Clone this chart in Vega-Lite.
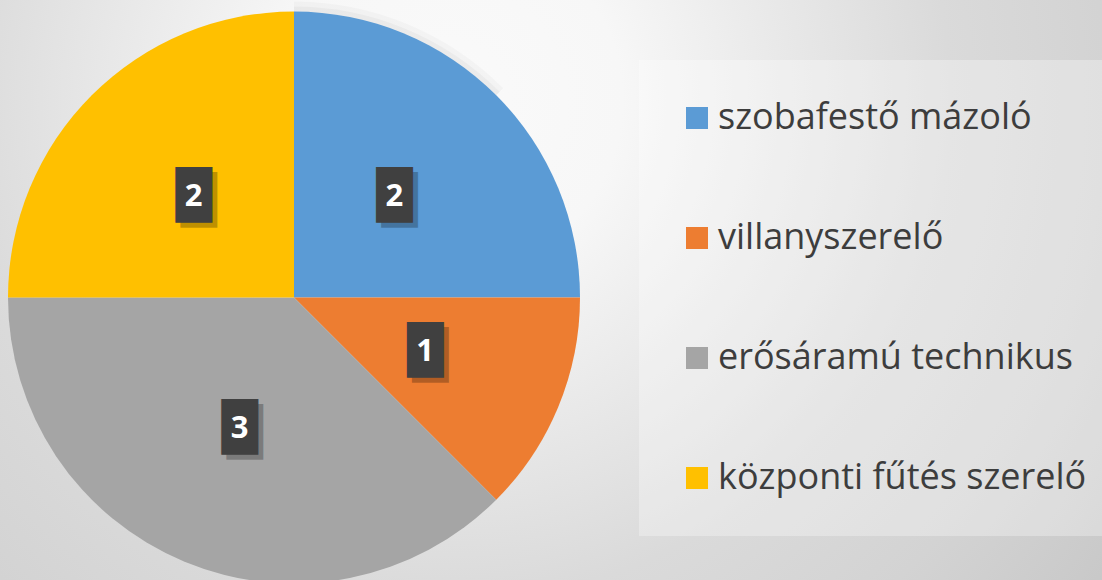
{
  "$schema": "https://vega.github.io/schema/vega-lite/v6.json",
  "autosize": {"type": "pad"},
  "padding": {"left": 0, "top": 0, "right": 0, "bottom": -15},
  "background": "#e6e6e6",
  "spacing": 0,
  "config": {"view": {"stroke": null}},
  "datasets": {
    "jobs": [
      {"k": "szobafestő mázoló", "v": 2, "o": 1},
      {"k": "villanyszerelő", "v": 1, "o": 2},
      {"k": "erősáramú technikus", "v": 3, "o": 3},
      {"k": "központi fűtés szerelő", "v": 2, "o": 4}
    ],
    "backdrop": [{"part": "background"}],
    "whole": [{"part": "pie", "share": 1}]
  },
  "hconcat": [
    {
      "width": 588,
      "height": 595,
      "layer": [
        {
          "data": {"name": "backdrop"},
          "mark": {
            "type": "rect",
            "fill": {
              "gradient": "radial",
              "x1": 0.7622, "y1": 0.168, "r1": 0,
              "x2": 0.7622, "y2": 0.168, "r2": 1.378,
              "stops": [
                {"offset": 0, "color": "#fafafa"},
                {"offset": 0.21, "color": "#f7f7f7"},
                {"offset": 0.61, "color": "#dadada"},
                {"offset": 0.8, "color": "#d3d3d3"},
                {"offset": 1, "color": "#c8c8c8"}
              ]
            }
          }
        },
        {
          "data": {"name": "whole"},
          "mark": {"type": "arc", "outerRadius": 296, "fill": "#000000", "fillOpacity": 0.025},
          "encoding": {"theta": {"field": "share", "type": "quantitative"}}
        },
        {
          "data": {"name": "whole"},
          "mark": {"type": "arc", "outerRadius": 291, "fill": "#000000", "fillOpacity": 0.03},
          "encoding": {"theta": {"field": "share", "type": "quantitative"}}
        },
        {
          "data": {"name": "jobs"},
          "layer": [
            {
              "mark": {"type": "arc", "outerRadius": 286, "stroke": null},
              "encoding": {
                "theta": {"field": "v", "type": "quantitative", "stack": true},
                "order": {"field": "o", "type": "quantitative"},
                "color": {
                  "field": "k",
                  "type": "nominal",
                  "scale": {
                    "domain": ["szobafestő mázoló", "villanyszerelő", "erősáramú technikus", "központi fűtés szerelő"],
                    "range": ["#5B9BD5", "#ED7D31", "#A5A5A5", "#FFC000"]
                  },
                  "legend": {
                    "title": null,
                    "orient": "none",
                    "legendX": 639,
                    "legendY": 60,
                    "padding": 40,
                    "fillColor": "rgba(255,255,255,0.3)",
                    "symbolType": "square",
                    "symbolSize": 484,
                    "symbolStrokeWidth": 0,
                    "labelFont": "Open Sans",
                    "labelFontSize": 36,
                    "labelColor": "#3d3d3d",
                    "labelOffset": 3,
                    "labelLimit": 700,
                    "rowPadding": 84
                  }
                }
              }
            },
            {
              "mark": {"type": "text", "radius": 142, "text": "█", "font": "DejaVu Sans", "fontSize": 47, "color": "rgba(0,0,0,0.25)", "dx": 5, "dy": 5, "baseline": "middle"},
              "encoding": {
                "theta": {"field": "v", "type": "quantitative", "stack": true},
                "order": {"field": "o", "type": "quantitative"},
                "detail": {"field": "k"}
              }
            },
            {
              "mark": {"type": "text", "radius": 142, "text": "█", "font": "DejaVu Sans", "fontSize": 47, "color": "#404040", "baseline": "middle"},
              "encoding": {
                "theta": {"field": "v", "type": "quantitative", "stack": true},
                "order": {"field": "o", "type": "quantitative"},
                "detail": {"field": "k"}
              }
            },
            {
              "mark": {"type": "text", "radius": 142, "font": "Open Sans", "fontWeight": "bold", "fontSize": 31, "color": "#ffffff", "baseline": "middle"},
              "encoding": {
                "theta": {"field": "v", "type": "quantitative", "stack": true},
                "order": {"field": "o", "type": "quantitative"},
                "detail": {"field": "k"},
                "text": {"field": "v", "type": "quantitative"}
              }
            }
          ]
        }
      ]
    },
    {
      "width": 514,
      "height": 595,
      "data": {"name": "backdrop"},
      "mark": {
        "type": "rect",
        "fill": {
          "gradient": "radial",
          "x1": -0.1639, "y1": 0.168, "r1": 0,
          "x2": -0.1639, "y2": 0.168, "r2": 1.378,
          "stops": [
            {"offset": 0, "color": "#fafafa"},
            {"offset": 0.21, "color": "#f7f7f7"},
            {"offset": 0.61, "color": "#dadada"},
            {"offset": 0.8, "color": "#d3d3d3"},
            {"offset": 1, "color": "#c8c8c8"}
          ]
        }
      }
    }
  ]
}
